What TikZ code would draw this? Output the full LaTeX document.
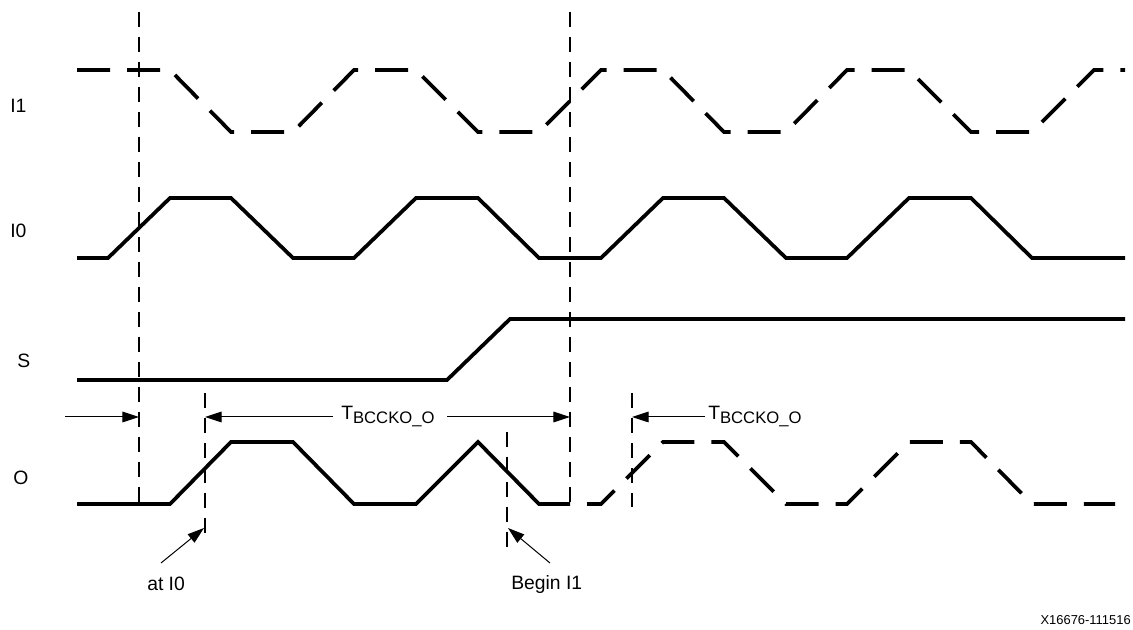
\documentclass[tikz,border=0pt]{standalone}
\usepackage{fontspec}
\setmainfont{Liberation Sans}
\usetikzlibrary{arrows.meta}
\begin{document}
\begin{tikzpicture}[x=0.75pt,y=-0.75pt,
  wave/.style={line width=2.8pt, line join=miter},
  wavedash/.style={wave, dash pattern=on 24.75pt off 12.75pt},
  vguide/.style={line width=1.4pt, dash pattern=on 11.25pt off 7.5pt},
  dimarrow/.style={line width=0.75pt, -{Triangle[length=12.5pt,width=8pt]}},
  lbl/.style={inner sep=0pt, font=\fontsize{14.5}{17}\selectfont},
  tag/.style={inner sep=0pt, font=\fontsize{9.7}{11}\selectfont},
]
\useasboundingbox (0,0) rectangle (1133,630);

% signal names
\node[lbl, anchor=base west] (nI1) at (10,113) {I1};
\node[lbl, anchor=base west] (nI0) at (10,238) {I0};
\node[lbl, anchor=base west] (nS)  at (17,368) {S};
\node[lbl, anchor=base west] (nO)  at (13,485) {O};

% I1 (dashed)
\draw[wavedash] (77,70) -- (170,70) -- (231,132) -- (293,132) -- (354,70) -- (416,70)
  -- (478,132) -- (539,132) -- (601,70) -- (663,70) -- (724,132) -- (786,132)
  -- (847,70) -- (909,70) -- (971,132) -- (1032,132) -- (1094,70) -- (1125,70);

% I0
\draw[wave] (77,258) -- (108,258) -- (170,198) -- (231,198) -- (293,258) -- (354,258)
  -- (416,198) -- (478,198) -- (539,258) -- (601,258) -- (663,198) -- (724,198)
  -- (786,258) -- (847,258) -- (909,198) -- (971,198) -- (1032,258) -- (1125,258);

% S
\draw[wave] (77,380) -- (447,380) -- (510,319) -- (1125,319);

% O solid part
\draw[wave] (77,504) -- (170,504) -- (231,442) -- (293,442) -- (354,504) -- (416,504)
  -- (478,442) -- (539,504) -- (570,504);
% O dashed part
\draw[wavedash, dash phase=24.75pt] (570,504) -- (601,504) -- (663,442) -- (724,442)
  -- (786,504) -- (847,504) -- (909,442) -- (971,442) -- (1032,504) -- (1115,504);

% vertical guide lines
\coordinate (v1t) at (139,12);  \coordinate (v1b) at (139,507);
\coordinate (v2t) at (570,12);  \coordinate (v2b) at (570,507);
\coordinate (v3t) at (205,393); \coordinate (v3b) at (205,533);
\coordinate (v4t) at (507,432); \coordinate (v4b) at (507,547);
\coordinate (v5t) at (632,393); \coordinate (v5b) at (632,507);
\draw[vguide] (v1t) -- (v1b);
\draw[vguide] (v2t) -- (v2b);
\draw[vguide] (v3t) -- (v3b);
\draw[vguide] (v4t) -- (v4b);
\draw[vguide] (v5t) -- (v5b);

% timing labels
\node[lbl, anchor=base west] (t1) at (341,420)
  {T\raisebox{-2.4pt}{\fontsize{12.5}{14}\selectfont BCCKO\_O}};
\node[lbl, anchor=base west] (t2) at (708,420)
  {T\raisebox{-2.4pt}{\fontsize{12.5}{14}\selectfont BCCKO\_O}};

% dimension arrows
\coordinate (a1s) at (65,417);  \coordinate (a1e) at (139,417);
\coordinate (a2s) at (333,417); \coordinate (a2e) at (205,417);
\coordinate (a3s) at (447,417); \coordinate (a3e) at (570,417);
\coordinate (a4s) at (705,417); \coordinate (a4e) at (632,417);
\draw[dimarrow] (a1s) -- (a1e);
\draw[dimarrow] (a2s) -- (a2e);
\draw[dimarrow] (a3s) -- (a3e);
\draw[dimarrow] (a4s) -- (a4e);

% callouts
\node[lbl, anchor=base west] (at0) at (147,591) {at I0};
\node[lbl, anchor=base west] (beg1) at (511,590) {Begin I1};
\coordinate (c1s) at (161,563); \coordinate (c1e) at (204,528);
\coordinate (c2s) at (550,563); \coordinate (c2e) at (508,528);
\draw[dimarrow] (c1s) -- (c1e);
\draw[dimarrow] (c2s) -- (c2e);

% figure tag
\node[tag, anchor=base east] (fig) at (1131,625) {X16676-111516};
\end{tikzpicture}
\end{document}
